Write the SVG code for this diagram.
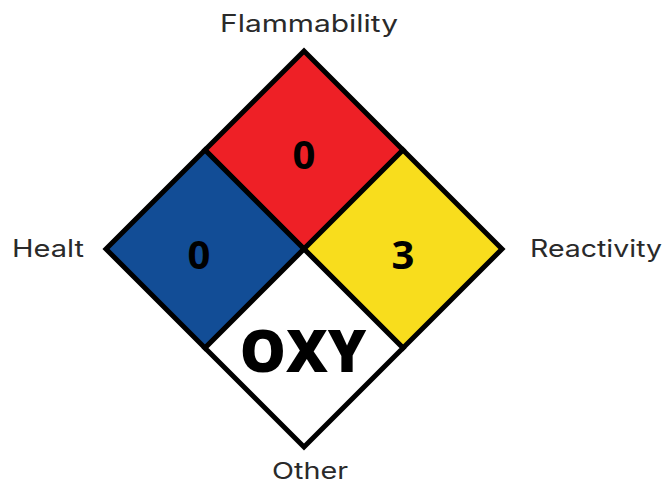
<svg xmlns="http://www.w3.org/2000/svg" width="664" height="484" viewBox="0 0 664 484">
<style>
.q{stroke:#000;stroke-width:5;stroke-linejoin:miter}
.lbl{font-family:Inter,"Open Sans",sans-serif;font-size:24px;fill:#2a2a2a}
.num{font-family:"Open Sans","Noto Sans",sans-serif;font-weight:bold;font-size:40px;fill:#000;text-anchor:middle}
</style>
<rect width="664" height="484" fill="#fff"/>
<g id="flammability"><path class="q" d="M304 51 L403 150 L304 249 L205 150 Z" fill="#ee2026"/><text class="num" x="304" y="169">0</text></g>
<g id="health"><path class="q" d="M205 150 L304 249 L205 348 L106 249 Z" fill="#124d96"/><text class="num" x="199" y="269">0</text></g>
<g id="reactivity"><path class="q" d="M403 150 L502 249 L403 348 L304 249 Z" fill="#f8dd1d"/><text class="num" x="403" y="269">3</text></g>
<g id="other"><path class="q" d="M304 249 L403 348 L304 447 L205 348 Z" fill="#fff"/><text class="num" x="303" y="372" style="font-size:58px;font-weight:800">OXY</text></g>
<g id="labels">
<text class="lbl" x="220" y="32" textLength="178" lengthAdjust="spacingAndGlyphs">Flammability</text>
<text class="lbl" x="12" y="257" textLength="72" lengthAdjust="spacingAndGlyphs">Healt</text>
<text class="lbl" x="530" y="257" textLength="132" lengthAdjust="spacingAndGlyphs">Reactivity</text>
<text class="lbl" x="272" y="479" textLength="76" lengthAdjust="spacingAndGlyphs" style="font-size:23px">Other</text>
</g>
</svg>
